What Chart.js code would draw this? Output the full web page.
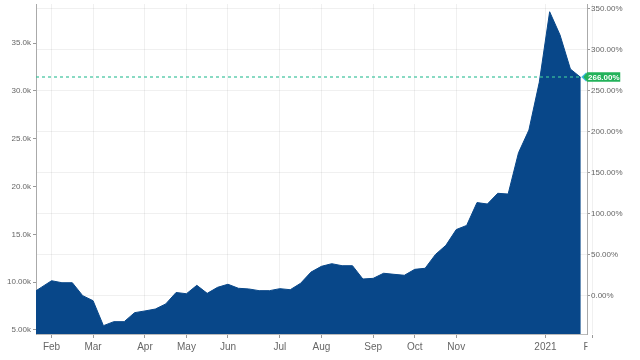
<!DOCTYPE html>
<html><head><meta charset="utf-8">
<script src="https://cdn.jsdelivr.net/npm/chart.js@4/dist/chart.umd.min.js"></script>
<style>html,body{margin:0;padding:0;background:#fff;} canvas{display:block;}</style>
</head><body>
<canvas id="c" width="640" height="360" style="width:640px;height:360px"></canvas>
<script>
// weekly values in thousands; first entry is week -2 (left of the visible window)
const firstWeek = -2;
const values = [
  8.75, 9.45,
  10.15, 9.94, 9.94, 8.59, 8.06, 5.45, 5.87, 5.87, 6.81, 6.99,
  7.19, 7.72, 8.92, 8.79, 9.67, 8.83, 9.46, 9.78, 9.36, 9.29,
  9.11, 9.11, 9.32, 9.21, 9.88, 11.05, 11.65, 11.93, 11.72, 11.72,
  10.33, 10.40, 10.93, 10.82, 10.72, 11.34, 11.45, 12.90, 13.85, 15.50,
  15.93, 18.32, 18.17, 19.29, 19.21, 23.53, 25.90, 30.89, 38.27, 35.84,
  32.28, 31.40
];
const monthTickWeeks = [0, 4, 9, 13, 17, 22, 26, 31, 35, 39, 47.6, 52.1];
const monthLabels = ['Feb','Mar','Apr','May','Jun','Jul','Aug','Sep','Oct','Nov','2021','Feb'];
const leftTicks = [5, 10, 15, 20, 25, 30, 35];
const leftLabels = ['5.00k','10.00k','15.0k','20.0k','25.0k','30.0k','35.0k'];
const pctTicks = [0, 50, 100, 150, 200, 250, 300, 350];
const pctLabels = ['0.00%','50.00%','100.00%','150.00%','200.00%','250.00%','300.00%','350.00%'];
const baseValue = 8.57;
const leftMin = 4.58, leftMax = 39.08;
const xMin = -1.5, xMax = 51.6;

const pts = values.map((v, i) => ({ x: firstWeek + i, y: v }));
const toPct = v => (v / baseValue - 1) * 100;
const FONT = '"Liberation Sans", Arial, sans-serif';

const overlay = {
  id: 'overlay',
  beforeDraw(chart) {
    const s = chart.scales.x;
    if (!s._patched) {
      const orig = s.drawLabels.bind(s);
      s.drawLabels = function (ca) {
        const ctx = chart.ctx;
        ctx.save();
        ctx.beginPath();
        ctx.rect(0, 0, chart.chartArea.right + 0.5, chart.height);
        ctx.clip();
        orig(ca);
        ctx.restore();
      };
      s._patched = true;
    }
  },
  afterDatasetsDraw(chart) {
    const ctx = chart.ctx, ca = chart.chartArea;
    const xs = chart.scales.x, ys = chart.scales.y;
    const last = pts[pts.length - 1];
    const y = Math.round(ys.getPixelForValue(last.y));
    const tip = xs.getPixelForValue(last.x) + 1.5;
    ctx.save();
    ctx.strokeStyle = '#3cc29c';
    ctx.lineWidth = 1.2;
    ctx.setLineDash([3, 3]);
    ctx.beginPath();
    ctx.moveTo(ca.left, y);
    ctx.lineTo(tip, y);
    ctx.stroke();
    ctx.setLineDash([]);
    // tag
    const h = 9.5, w = 38;
    ctx.fillStyle = '#3cb8e6';
    ctx.beginPath();
    ctx.moveTo(tip - 1, y);
    ctx.lineTo(tip + 4, y - h / 2);
    ctx.lineTo(tip + 4, y + h / 2);
    ctx.closePath();
    ctx.fill();
    ctx.fillStyle = '#22b25a';
    ctx.beginPath();
    ctx.moveTo(tip + 1, y);
    ctx.lineTo(tip + 5, y - h / 2);
    ctx.lineTo(tip + w, y - h / 2);
    ctx.lineTo(tip + w, y + h / 2);
    ctx.lineTo(tip + 5, y + h / 2);
    ctx.closePath();
    ctx.fill();
    ctx.fillStyle = '#fff';
    ctx.font = 'bold 8px ' + FONT;
    ctx.textAlign = 'center';
    ctx.textBaseline = 'middle';
    ctx.fillText(Math.round(toPct(last.y)).toFixed(2) + '%', tip + 5 + (w - 5) / 2, y + 0.5);
    ctx.restore();
  }
};

const vFit = w => s => { s.width = w; s.paddingTop = 0; s.paddingBottom = 0; };

new Chart(document.getElementById('c'), {
  type: 'line',
  data: {
    datasets: [{
      data: pts,
      borderColor: '#084789',
      backgroundColor: '#084789',
      borderWidth: 1,
      pointRadius: 0,
      fill: 'start',
      tension: 0
    }]
  },
  options: {
    responsive: false,
    animation: false,
    devicePixelRatio: 1,
    layout: { padding: { top: 4, left: 0, right: 0, bottom: 0 } },
    plugins: { legend: { display: false }, tooltip: { enabled: false } },
    scales: {
      x: {
        type: 'linear',
        min: xMin, max: xMax,
        afterBuildTicks: s => { s.ticks = monthTickWeeks.map(v => ({ value: v })); },
        afterFit: s => { s.height = 26; s.paddingLeft = 0; s.paddingRight = 0; },
        grid: { color: 'rgba(0,0,0,0.06)', tickColor: '#999', tickLength: 4 },
        border: { color: '#bbb' },
        ticks: {
          autoSkip: false, maxRotation: 0, includeBounds: false, padding: 3,
          color: '#666', font: { family: FONT, size: 10 },
          callback: (v, i) => monthLabels[i]
        }
      },
      y: {
        position: 'left',
        min: leftMin, max: leftMax,
        afterBuildTicks: s => { s.ticks = leftTicks.map(v => ({ value: v })); },
        afterFit: vFit(36),
        grid: { drawOnChartArea: false, tickColor: '#999', tickLength: 3 },
        border: { color: '#aaa' },
        ticks: {
          autoSkip: false, includeBounds: false, padding: 2,
          color: '#666', font: { family: FONT, size: 8 },
          callback: (v, i) => leftLabels[i]
        }
      },
      yp: {
        position: 'right',
        min: toPct(leftMin), max: toPct(leftMax),
        afterBuildTicks: s => { s.ticks = pctTicks.map(v => ({ value: v })); },
        afterFit: vFit(53),
        grid: { color: 'rgba(0,0,0,0.06)', tickColor: '#999', tickLength: 3 },
        border: { color: '#aaa' },
        ticks: {
          autoSkip: false, includeBounds: false, padding: 1,
          color: '#666', font: { family: FONT, size: 8 },
          callback: (v, i) => pctLabels[i]
        }
      }
    }
  },
  plugins: [overlay]
});
</script>
</body></html>
